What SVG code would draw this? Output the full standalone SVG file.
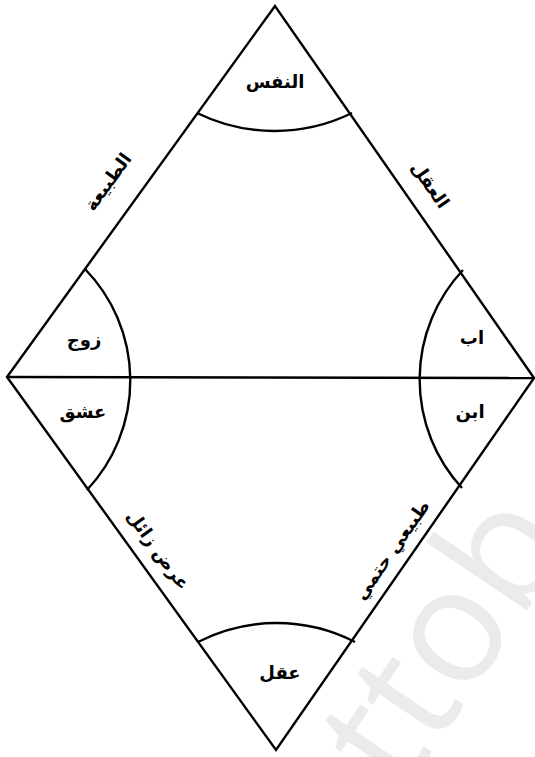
<svg xmlns="http://www.w3.org/2000/svg" width="535" height="757" viewBox="0 0 535 757">
<style>
.ln{fill:none;stroke:#000;stroke-width:2.4;stroke-linejoin:miter}
.t{font-family:"DejaVu Sans",sans-serif;font-weight:bold;font-size:18px;fill:#000;text-anchor:middle;direction:rtl}
.wm{font-family:"Open Sans","DejaVu Sans",sans-serif;font-size:160px;fill:#ebebeb}
</style>
<text class="wm" transform="translate(402,796) rotate(-56)">ttob</text>
<g id="connectors">
<path class="ln" d="M275,6 L7,377 L276,750 L534,378 Z"/>
<path class="ln" d="M7,377 L534,378"/>
</g>
<g id="top"><path class="ln" d="M197,113 A176,176 0 0 0 352,113"/><text class="t" x="275" y="88">النفس</text></g>
<g id="left"><path class="ln" d="M85,269 A160,160 0 0 1 87,490"/><text class="t" x="84" y="346">زوج</text><text class="t" x="83" y="418">عشق</text></g>
<g id="right"><path class="ln" d="M463,270 A160,160 0 0 0 462,488"/><text class="t" x="472" y="344">اب</text><text class="t" x="470" y="418">ابن</text></g>
<g id="bottom"><path class="ln" d="M198,642 A172,172 0 0 1 355,642"/><text class="t" x="280" y="679">عقل</text></g>
<g id="edge-tl"><text class="t" transform="translate(108,182) rotate(-54)" y="6">الطبيعة</text></g>
<g id="edge-tr"><text class="t" transform="translate(430,185) rotate(55)" y="6">العقل</text></g>
<g id="edge-bl"><text class="t" transform="translate(158,550) rotate(54)" y="6">عرض زائل</text></g>
<g id="edge-br"><text class="t" transform="translate(392,550) rotate(-55)" y="6">طبيعي حتمي</text></g>
</svg>
